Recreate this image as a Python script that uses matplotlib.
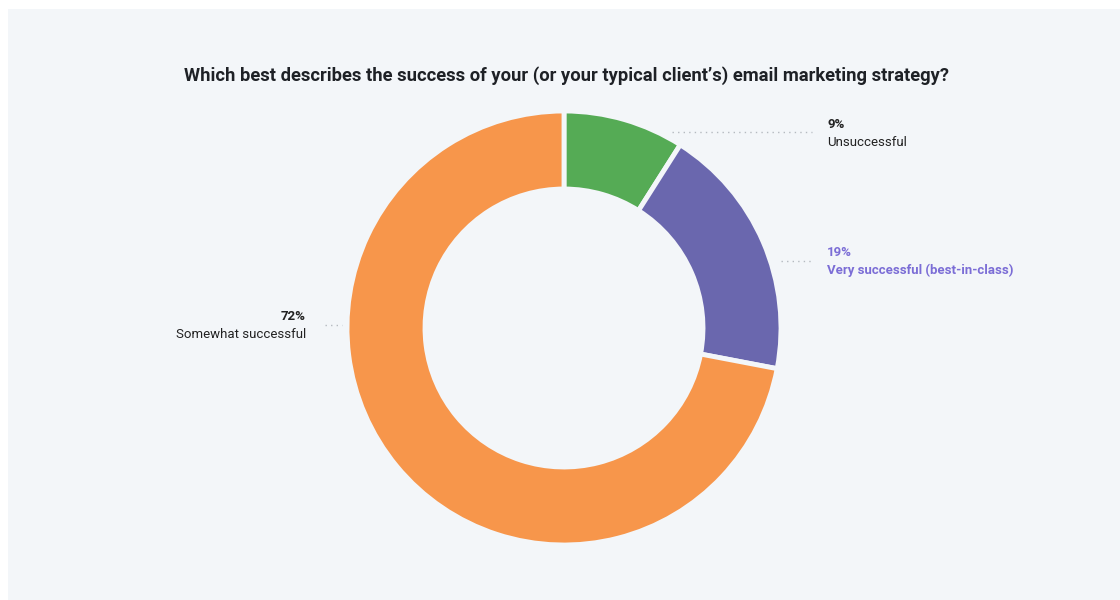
import matplotlib.pyplot as plt
from matplotlib.patches import Rectangle

plt.rcParams['font.family'] = ['Roboto', 'DejaVu Sans']

labels = ['Unsuccessful', 'Very successful (best-in-class)', 'Somewhat successful']
values = [9, 19, 72]
colors = ['#55AB55', '#6A67AE', '#F7964B']
label_colors = ['#222222', '#7B6DD6', '#222222']

bg = '#F3F6F9'
W, H = 1120, 600

fig = plt.figure(figsize=(W / 100, H / 100), dpi=100)
fig.patch.set_facecolor('white')
ax = fig.add_axes([0, 0, 1, 1])

# light panel behind everything
ax.add_patch(Rectangle((8, 0), W - 8, H - 9, facecolor=bg, edgecolor='none', zorder=0))

cx, cy, r = 564, H - 328, 217
ax.pie(values, colors=colors, startangle=90, counterclock=False,
       center=(cx, cy), radius=r,
       wedgeprops=dict(width=r - 139, edgecolor=bg, linewidth=3.5),
       frame=True)
ax.set_xlim(0, W)
ax.set_ylim(0, H)
ax.set_aspect('equal')
ax.axis('off')

ax.text(566, H - 76, "Which best describes the success of your (or your typical client\u2019s) email marketing strategy?",
        ha='center', va='center', fontsize=13.25, fontweight='bold', color='#1E2126')

# label leaders (x0, x1, y) and text anchors
leaders = [(672, 812, 132), (781, 812, 261), (325, 342, 325)]
anchors = [(827, 'left', 133), (827, 'left', 261), (306, 'right', 326)]

for (x0, x1, y), (tx, ha, ty), lab, v, c in zip(leaders, anchors, labels, values, label_colors):
    ax.plot([x0, x1], [H - y, H - y], color='#B5BAC0', lw=1, ls=(0, (1, 3)))
    ax.text(tx, H - ty + 9, f'{v}%', ha=ha, va='center', fontsize=9.5,
            fontweight='bold', color=c)
    ax.text(tx, H - ty - 9, lab, ha=ha, va='center', fontsize=9.5,
            fontweight='bold' if c != '#222222' else 'normal', color=c)

fig.savefig('out.png', dpi=100, facecolor='white')
